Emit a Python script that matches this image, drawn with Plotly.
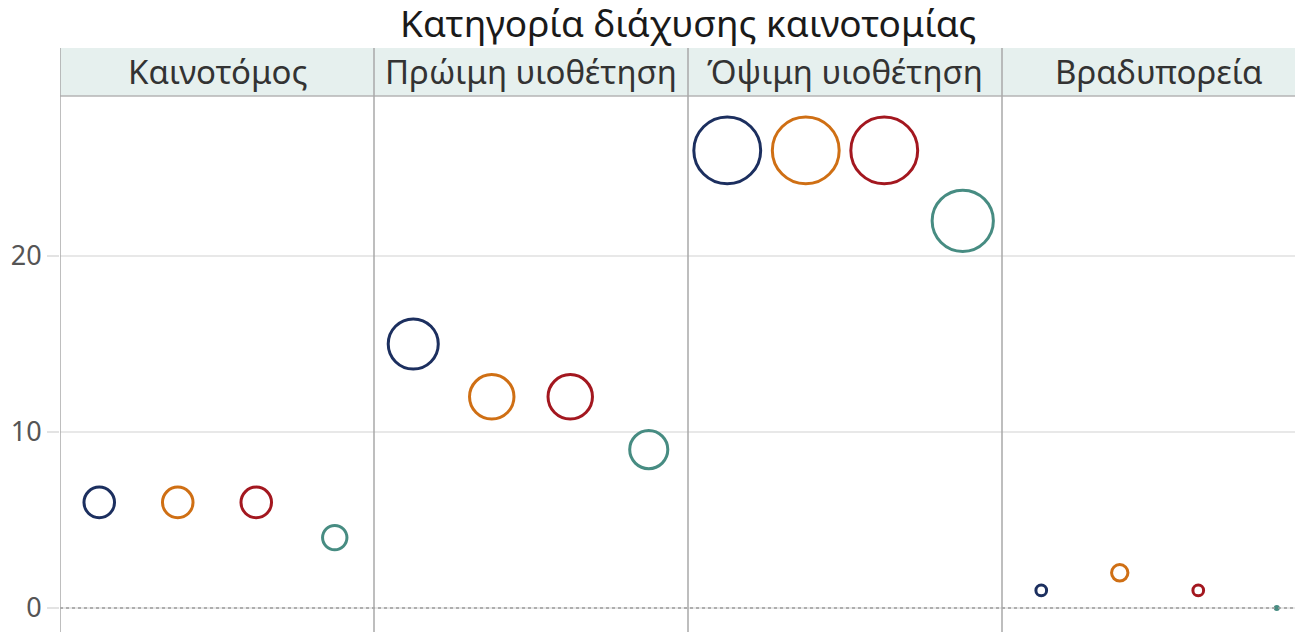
import math
import plotly.graph_objects as go

title_text = "Κατηγορία διάχυσης καινοτομίας"
categories = ["Καινοτόμος", "Πρώιμη υιοθέτηση", "Όψιμη υιοθέτηση", "Βραδυπορεία"]
series_names = ["Σειρά 1", "Σειρά 2", "Σειρά 3", "Σειρά 4"]
series_colors = ["#1c2f5f", "#cf6f14", "#a3171f", "#478c82"]
# values[series][category]
values = [
    [6, 15, 26, 1],
    [6, 12, 26, 2],
    [6, 12, 26, 1],
    [4, 9, 22, 0],
]
y_ticks = [0, 10, 20]

# page has an 8px body margin, so figure coords = page coords - 8
OFF = 8
W, H = 1295, 632
ML, MT = 60 - OFF, 96 - OFF
plot_h = H - MT
plot_w = W - ML
header_h = 48
unit_px = 78.5
px_per_y = 17.6
zero_px = 608 - OFF
x_max = plot_w / unit_px

fig = go.Figure()
n_series = len(series_names)
for s, name in enumerate(series_names):
    xs = [c * n_series + s + 0.5 for c in range(len(categories))]
    ys = values[s]
    sizes = [max(13.7 * math.sqrt(v) - 3, 3) for v in ys]
    fills = [series_colors[s] if v == 0 else "rgba(255,255,255,0)" for v in ys]
    fig.add_trace(go.Scatter(
        x=xs, y=ys, mode="markers", name=name,
        marker=dict(size=sizes, color=fills, opacity=1,
                    line=dict(color=series_colors[s], width=3)),
        showlegend=False, cliponaxis=False,
    ))

hdr_top = 1 + header_h / plot_h
shapes = [
    dict(type="rect", xref="paper", yref="paper", x0=0, x1=1, y0=1, y1=hdr_top,
         fillcolor="#e6f0ee", line=dict(width=0), layer="below"),
    dict(type="line", xref="paper", yref="paper", x0=0, x1=1, y0=1, y1=1,
         line=dict(color="#b4b4b4", width=1.5)),
    dict(type="line", xref="paper", yref="y", x0=0, x1=1, y0=0, y1=0,
         line=dict(color="#9a9a9a", width=1.5, dash="dot")),
]
for c in range(len(categories)):
    shapes.append(dict(type="line", xref="x", yref="paper", x0=c * n_series, x1=c * n_series,
                       y0=0, y1=hdr_top, line=dict(color="#a8a8a8", width=1.5)))

annotations = []
for c, cat in enumerate(categories):
    annotations.append(dict(x=c * n_series + n_series / 2, y=1 + header_h / 2 / plot_h,
                            xref="x", yref="paper", text=cat, showarrow=False,
                            xanchor="center", yanchor="middle",
                            font=dict(family="Noto Sans", size=33, color="#333333")))
title_px_x = (ML + ML + 4 * n_series * unit_px) / 2
title_px_y = 23 - OFF
annotations.append(dict(x=(title_px_x - ML) / plot_w, y=(H - title_px_y) / plot_h,
                        xref="paper", yref="paper", text=title_text, showarrow=False,
                        xanchor="center", yanchor="middle",
                        font=dict(family="Noto Sans", size=37, color="#1a1a1a")))

y0 = (zero_px - H) / px_per_y
y1 = (zero_px - MT) / px_per_y
fig.update_layout(
    width=W, height=H,
    margin=dict(l=ML, r=0, t=MT, b=0, autoexpand=False),
    plot_bgcolor="white", paper_bgcolor="white",
    shapes=shapes, annotations=annotations,
    xaxis=dict(range=[0, x_max], showgrid=False, zeroline=False, automargin=False,
               showticklabels=False, ticks="", fixedrange=True),
    yaxis=dict(range=[y0, y1], tickvals=y_ticks, ticktext=[str(v) for v in y_ticks],
               showgrid=True, gridcolor="#e8e8e8", gridwidth=1.5, zeroline=False,
               automargin=False,
               ticks="outside", ticklen=12, tickcolor="#e3e3e3", tickwidth=1.5,
               tickfont=dict(family="Noto Sans", size=27, color="#555555")),
)
fig.write_html("out.html")
